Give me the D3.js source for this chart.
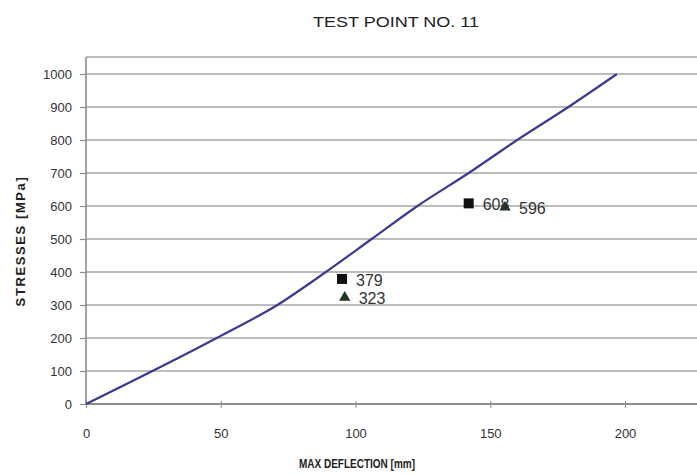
<!DOCTYPE html>
<html>
<head>
<meta charset="utf-8">
<script src="https://cdn.jsdelivr.net/npm/d3@7/dist/d3.min.js"></script>
<style>
  html, body { margin: 0; padding: 0; background: #fff; }
  svg { display: block; }
  text { font-family: Arial, "Liberation Sans", sans-serif; }
</style>
</head>
<body>
<svg id="chart" width="697" height="475"></svg>
<script>
// Stress curve: max deflection (mm) against stress (MPa)
const curveDeflection = [0, 48.5, 71, 89, 106, 123, 142, 160, 179, 197];
const curveStress = [0, 200, 300, 400, 500, 600, 700, 800, 900, 1000];

// Measured points
const squareDeflection = [95, 142];
const squareStress = [379, 608];
const triangleDeflection = [96, 155.5];
const triangleStress = [323, 596];

const xTicks = [0, 50, 100, 150, 200];
const yTicks = [0, 100, 200, 300, 400, 500, 600, 700, 800, 900, 1000];

const svg = d3.select("#chart");
const W = 697, H = 475;
const left = 86, bottom = 404, plotTop = 57;

const x = d3.scaleLinear().domain([0, 200]).range([left, 625]);
const y = d3.scaleLinear().domain([0, 1000]).range([bottom, 74]);

svg.append("rect").attr("width", W).attr("height", H).attr("fill", "#fff");

// Horizontal gridlines
svg.append("g")
  .selectAll("line")
  .data(yTicks.slice(1))
  .join("line")
  .attr("x1", left).attr("x2", W)
  .attr("y1", d => y(d)).attr("y2", d => y(d))
  .attr("stroke", "#a6a6a6")
  .attr("stroke-width", 1.6);

// Plot frame top
svg.append("line")
  .attr("x1", left).attr("x2", W)
  .attr("y1", plotTop).attr("y2", plotTop)
  .attr("stroke", "#a6a6a6").attr("stroke-width", 1.6);

// Y axis
const yAxis = d3.axisLeft(y).tickValues(yTicks).tickSize(6).tickPadding(8).tickFormat(d3.format("d"));
const gy = svg.append("g").attr("transform", `translate(${left},0)`).call(yAxis);
gy.select(".domain").remove();
gy.append("line").attr("x1", 0).attr("x2", 0).attr("y1", plotTop).attr("y2", bottom)
  .attr("stroke", "#8c8c8c").attr("stroke-width", 1.6);
gy.selectAll(".tick line").attr("stroke", "#8c8c8c").attr("stroke-width", 1.2);
gy.selectAll(".tick text").attr("fill", "#333").style("font-size", "13px");

// X axis
const xAxis = d3.axisBottom(x).tickValues(xTicks).tickSize(4).tickPadding(21).tickFormat(d3.format("d"));
const gx = svg.append("g").attr("transform", `translate(0,${bottom})`).call(xAxis);
gx.select(".domain").remove();
gx.append("line").attr("x1", left).attr("x2", W).attr("y1", 0).attr("y2", 0)
  .attr("stroke", "#8c8c8c").attr("stroke-width", 1.8);
gx.selectAll(".tick line").attr("y1", -3).attr("stroke", "#8c8c8c").attr("stroke-width", 1);
gx.selectAll(".tick text").attr("fill", "#333").style("font-size", "13px");

// Stress curve
const curve = curveDeflection.map((d, i) => [d, curveStress[i]]);
svg.append("path")
  .datum(curve)
  .attr("fill", "none")
  .attr("stroke", "#3b3b8f")
  .attr("stroke-width", 2.2)
  .attr("stroke-linejoin", "round")
  .attr("d", d3.line().x(d => x(d[0])).y(d => y(d[1])).curve(d3.curveMonotoneX));

// Square markers
const squares = squareDeflection.map((d, i) => ({ dx: d, s: squareStress[i] }));
svg.append("g").selectAll("rect")
  .data(squares)
  .join("rect")
  .attr("x", d => x(d.dx) - 5).attr("y", d => y(d.s) - 5)
  .attr("width", 10).attr("height", 10)
  .attr("fill", "#111");

// Triangle markers
const triangles = triangleDeflection.map((d, i) => ({ dx: d, s: triangleStress[i] }));
svg.append("g").selectAll("path")
  .data(triangles)
  .join("path")
  .attr("transform", d => `translate(${x(d.dx)},${y(d.s)})`)
  .attr("d", d3.symbol(d3.symbolTriangle, 55))
  .attr("fill", "#1e351e");

// Value labels
const labelPoints = squares.concat(triangles);
svg.append("g").selectAll("text")
  .data(labelPoints)
  .join("text")
  .attr("x", d => x(d.dx) + 14)
  .attr("y", d => y(d.s) + 1)
  .attr("dy", "0.35em")
  .attr("fill", "#333")
  .style("font-size", "16px")
  .text(d => d.s);

// Titles
svg.append("text")
  .attr("x", 396).attr("y", 27)
  .attr("text-anchor", "middle")
  .attr("fill", "#222")
  .style("font-size", "15px")
  .attr("textLength", 166)
  .attr("lengthAdjust", "spacingAndGlyphs")
  .text("TEST POINT NO. 11");

svg.append("text")
  .attr("x", 357).attr("y", 468)
  .attr("text-anchor", "middle")
  .attr("fill", "#222")
  .style("font-size", "13.5px")
  .style("font-weight", "bold")
  .attr("textLength", 116)
  .attr("lengthAdjust", "spacingAndGlyphs")
  .text("MAX DEFLECTION [mm]");

svg.append("text")
  .attr("transform", "translate(25,241) rotate(-90)")
  .attr("text-anchor", "middle")
  .attr("fill", "#222")
  .style("font-size", "13px")
  .style("font-weight", "bold")
  .style("letter-spacing", "1.6px")
  .text("STRESSES  [MPa]");
</script>
</body>
</html>
